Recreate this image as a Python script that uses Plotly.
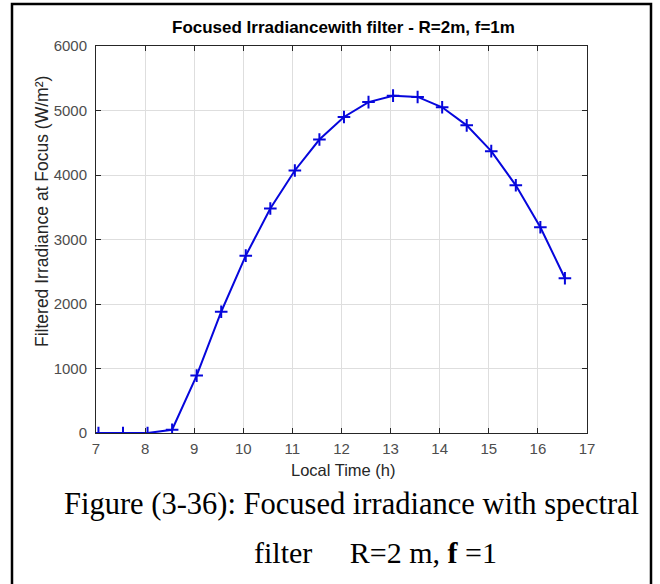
import plotly.graph_objects as go

# Data
local_time = [7.05, 7.55, 8.05, 8.55, 9.05, 9.55, 10.05, 10.55, 11.05, 11.55,
              12.05, 12.55, 13.05, 13.55, 14.05, 14.55, 15.05, 15.55, 16.05, 16.55]
irradiance = [0, 0, 0, 50, 890, 1880, 2750, 3480, 4070, 4550,
              4900, 5130, 5230, 5210, 5050, 4770, 4370, 3840, 3190, 2400]

x_ticks = [7, 8, 9, 10, 11, 12, 13, 14, 15, 16, 17]
y_ticks = [0, 1000, 2000, 3000, 4000, 5000, 6000]

W, H = 660, 584
L, R, T, B = 96, 587, 46, 433  # plot area in pixels


def px(x):
    return (x - L) / (R - L)


def py(y):
    return (B - y) / (B - T)


fig = go.Figure()
fig.add_trace(go.Scatter(
    x=local_time, y=irradiance, mode="lines+markers",
    line=dict(color="#0606dc", width=2),
    marker=dict(symbol="cross-thin-open", size=9, line=dict(color="#0606dc", width=2)),
    showlegend=False,
))

axis_common = dict(
    showline=True, linecolor="#262626", linewidth=1, mirror="ticks",
    ticks="inside", ticklen=5, tickcolor="#262626",
    showgrid=True, gridcolor="#dedede", gridwidth=1, zeroline=False,
    tickfont=dict(family="Liberation Sans, Arial", size=15, color="#4d4d4d"),
)

fig.update_xaxes(range=[7, 17], tickvals=x_ticks, ticktext=[str(v) for v in x_ticks],
                 ticklabelstandoff=2, **axis_common)
fig.update_yaxes(range=[0, 6000], tickvals=y_ticks, ticktext=[str(v) for v in y_ticks],
                 ticklabelstandoff=5, **axis_common)

annotations = [
    dict(text="<b>Focused Irradiancewith filter - R=2m, f=1m</b>", x=px(343), y=py(27),
         xref="paper", yref="paper", showarrow=False, xanchor="center", yanchor="middle",
         font=dict(family="Liberation Sans, Arial", size=17, color="#000000")),
    dict(text="Local Time (h)", x=px(343), y=py(470), xref="paper", yref="paper",
         showarrow=False, xanchor="center", yanchor="middle",
         font=dict(family="Liberation Sans, Arial", size=16.5, color="#262626")),
    dict(text="Filtered Irradiance at Focus (W/m²)", x=px(42), y=py(212), xref="paper",
         yref="paper", showarrow=False, textangle=-90, xanchor="center", yanchor="middle",
         font=dict(family="Liberation Sans, Arial", size=17.5, color="#262626")),
    dict(text="Figure (3-36): Focused irradiance with spectral", x=px(351), y=py(504),
         xref="paper", yref="paper", showarrow=False, xanchor="center", yanchor="middle",
         font=dict(family="Liberation Serif, Times New Roman", size=30.5, color="#000000")),
    dict(text="filter     R=2 m, <b>f</b> =1", x=px(375), y=py(552),
         xref="paper", yref="paper", showarrow=False, xanchor="center", yanchor="middle",
         font=dict(family="Liberation Serif, Times New Roman", size=30, color="#000000")),
]

shapes = [
    dict(type="rect", xref="paper", yref="paper", x0=px(12), x1=px(651), y0=py(4), y1=py(620),
         line=dict(color="#000000", width=2.5), fillcolor="rgba(0,0,0,0)", layer="above"),
]

fig.update_layout(
    width=W, height=H,
    margin=dict(l=L, r=W - R, t=T, b=H - B),
    paper_bgcolor="#ffffff", plot_bgcolor="#ffffff",
    annotations=annotations, shapes=shapes,
)

fig.write_html("out.html")
